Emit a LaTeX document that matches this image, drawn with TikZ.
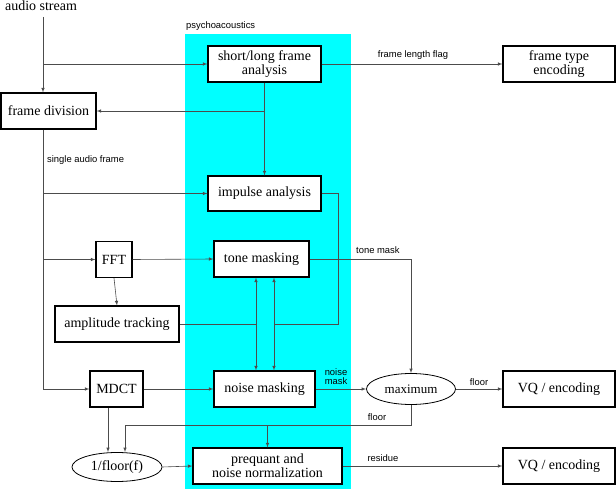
\documentclass[tikz,border=0pt]{standalone}
\usepackage{fontspec}
\setmainfont{Liberation Serif}
\newfontfamily\labelfont{Liberation Sans}
\usetikzlibrary{shapes.geometric}
\definecolor{psycyan}{RGB}{0,255,255}
\tikzset{
	box/.style={draw,fill=white,line width=1.1pt,minimum height=36pt,inner sep=2pt,align=center,font=\fontsize{14}{14}\selectfont},
	oval/.style={draw,fill=white,ellipse,line width=0.8pt,inner sep=0pt,font=\fontsize{14}{14}\selectfont},
	lbl/.style={inner sep=0pt,font=\labelfont\fontsize{9.4}{9}\selectfont},
	wire/.style={draw=black!70,line width=0.6pt}
}
\begin{document}
\begin{tikzpicture}[x=1pt,y=-1pt]
			\useasboundingbox (0,0) rectangle (616,489);
			% zona psicoacustica
			\fill[psycyan] (185,34) rectangle (351,489);
			\node[lbl,anchor=base west] (psy) at (186,29) {psychoacoustics};

			\node[inner sep=0pt,anchor=base,font=\fontsize{14}{14}\selectfont] (audio) at (41,11) {audio stream};
			\coordinate (tap) at (43,17);

			% bloques
			\node[box,minimum width=113pt] (shortlong) at (264.5,64) {short/long frame\\analysis};
			\node[box,minimum width=112pt] (frametype) at (559,64) {frame type\\encoding};
			\node[box,minimum width=95pt] (framediv) at (48.5,111) {frame division};
			\node[box,minimum width=113pt,minimum height=35pt] (impulse) at (264.5,193.5) {impulse analysis};
			\node[box,minimum width=36pt] (fft) at (114,259.5) {FFT};
			\node[box,minimum width=95pt] (tone) at (261.5,259) {tone masking};
			\node[box,minimum width=124pt] (amp) at (117,324) {amplitude tracking};
			\node[box,minimum width=53pt] (mdct) at (116.5,389) {MDCT};
			\node[box,minimum width=101pt] (noise) at (264.5,389) {noise masking};
			\node[oval,minimum width=89pt,minimum height=31pt,font=\fontsize{13}{13}\selectfont] (maximum) at (411,389) {maximum};
			\node[box,minimum width=112pt] (vqfloor) at (559,389) {VQ / encoding};
			\node[oval,minimum width=90pt,minimum height=29pt] (recip) at (117,467) {1/floor(f)};
			\node[box,minimum width=149pt] (prequant) at (267.5,466) {prequant and\\noise normalization};
			\node[box,minimum width=112pt] (vqres) at (559,466) {VQ / encoding};

			\coordinate (jl) at (256,324);
			\coordinate (jr) at (274,324);
			\coordinate (floorbus) at (0,425);
			\coordinate (recipin) at ([xshift=8pt]recip.north);

			% flujos
			\begin{scope}[wire,->,>=latex]
			\draw (tap) -- (tap |- framediv.north);
			\draw (tap |- shortlong) -- (shortlong.west);
			\draw (shortlong.east) -- (frametype.west);
			\draw (shortlong.south) -- (impulse.north);
			\draw (shortlong.south |- framediv) -- (framediv.east);
			\draw (tap |- impulse) -- (impulse.west);
			\draw (tap |- fft) -- (fft.west);
			\draw (tap |- mdct) -- (mdct.west);
			\draw (fft.east) -- (tone.west);
			\draw (fft.south) -- (amp.north);
			\draw (mdct.east) -- (noise.west);
			\draw (noise.east) -- (maximum.west);
			\draw (tone.east) -| (maximum.north);
			\draw (maximum.east) -- (vqfloor.west);
			\draw (maximum.south) |- (recipin |- floorbus) -- (recipin);
			\draw (prequant.north |- floorbus) -- (prequant.north);
			\draw ([xshift=-8.5pt]mdct.south) -- ([xshift=-9pt]recip.north);
			\draw (recip.east) -- (prequant.west);
			\draw (prequant.east) -- (vqres.west);
			\draw[<->] (jl |- tone.south) -- (jl |- noise.north);
			\draw[<->] (jr |- tone.south) -- (jr |- noise.north);
			\end{scope}
			\draw[wire] (tap |- framediv.south) -- (tap |- mdct);
			\draw[wire] (impulse.east) -- ++(17,0) |- (jr);
			\draw[wire] (amp.east) -- (jl);

			% etiquetas
			\node[lbl,anchor=base] (lenflag) at (413,58) {frame length flag};
			\node[lbl,anchor=base west] (single) at (47,163) {single audio frame};
			\node[lbl,anchor=base west] (tonemask) at (356,254) {tone mask};
			\node[lbl,anchor=south,align=center] (noisemask) at (336,385) {noise\\mask};
			\node[lbl,anchor=base] (floorout) at (479,385) {floor};
			\node[lbl,anchor=base] (floorback) at (377,420) {floor};
			\node[lbl,anchor=base] (residue) at (383,461) {residue};
		    \end{tikzpicture}
\end{document}
